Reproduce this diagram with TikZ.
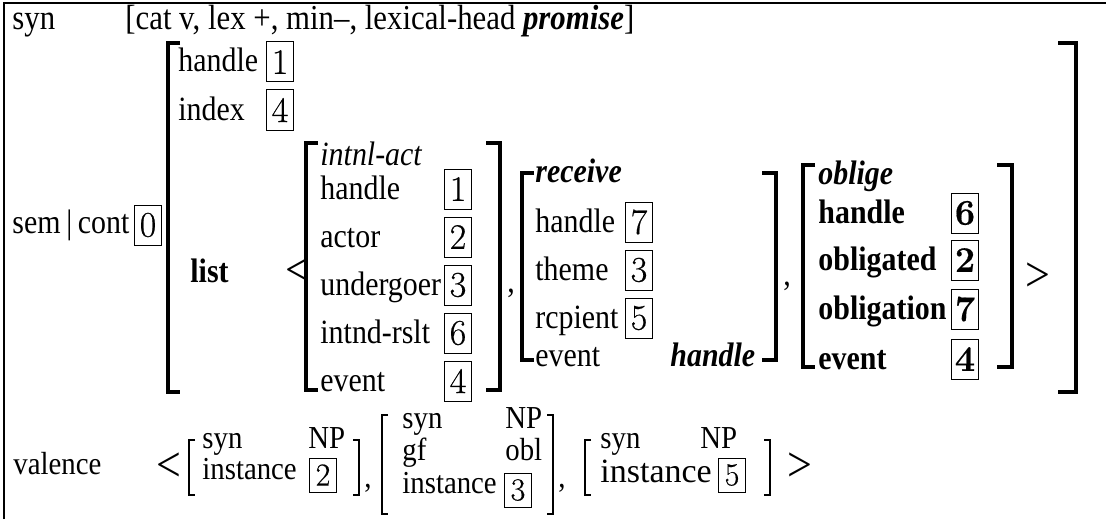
\documentclass[tikz,border=0pt]{standalone}
\usepackage{fontspec}
\setmainfont{Liberation Serif}[FakeStretch=0.88]
\newfontfamily\valfont{Liberation Serif}[FakeStretch=0.9]
\newfontfamily\widefont{Liberation Serif}
\newfontfamily\tagfont{Latin Modern Roman}[FakeBold=0.5]
\usepackage{tikz}

\tikzset{
  lab/.style={anchor=base west, inner sep=0pt, font=\fontsize{17}{19}\selectfont},
  vlab/.style={anchor=base west, inner sep=0pt, font=\valfont\fontsize{16}{18}\selectfont},
  tag/.style={draw, line width=0.5pt, inner sep=0pt, minimum width=13.5pt, minimum height=20pt, font=\tagfont\fontsize{18}{20}\selectfont},
  vtag/.style={tag, minimum height=17pt, font=\tagfont\fontsize{16}{18}\selectfont},
  brk/.style={line width=2pt},
  ibrk/.style={line width=1.6pt},
  vbrk/.style={line width=0.6pt},
  angl/.style={inner sep=0pt, font=\fontsize{25}{25}\selectfont}
}

\begin{document}
\begin{tikzpicture}[x=0.5pt,y=-0.5pt]
\useasboundingbox (0,0) rectangle (1106,519);

\draw [line width=1pt] (4,519) -- (4,3) -- (1106,3);

\node (syn) at (12,30) [lab, font=\fontsize{17.5}{19}\selectfont]{syn};
\node (synval) at (125,30) [lab, font=\fontsize{17.5}{19}\selectfont]{[cat v, lex +, min--, lexical-head \textbf{\textit{promise}}]};

\node (sem) at (12,233) [lab]{sem\,|\,cont};
\node (t0) at (148,225) [tag]{0};

% main matrix
\draw [brk] (180,43) -- (168,43) -- (168,392) -- (180,392);
\draw [brk] (1058,43) -- (1076,43) -- (1076,392) -- (1058,392);

\node (mhandle) at (178,72) [lab]{handle};
\node (t1) at (280,62) [tag]{1};
\node (mindex) at (178,120) [lab]{index};
\node (t4) at (280,110) [tag]{4};
\node (list) at (190,282) [lab]{\textbf{list}};
\node (lt) at (298,272) [angl]{<};

% intnl-act
\draw [ibrk] (318,143) -- (306,143) -- (306,390) -- (318,390);
\draw [ibrk] (486,143) -- (500,143) -- (500,390) -- (486,390);
\node (ia) at (320,165) [lab]{\textit{intnl-act}};
\node (iahandle) at (320,199) [lab]{handle};
\node (iat1) at (458,189) [tag]{1};
\node (iaactor) at (320,247) [lab]{actor};
\node (iat2) at (458,237) [tag]{2};
\node (iaund) at (320,295) [lab]{undergoer};
\node (iat3) at (458,285) [tag]{3};
\node (iarslt) at (320,343) [lab]{intnd-rslt};
\node (iat6) at (458,333) [tag]{6};
\node (iaevent) at (320,391) [lab]{event};
\node (iat4) at (458,381) [tag]{4};
\node (c1) at (507,292) [lab]{,};

% receive
\draw [ibrk] (534,173) -- (522,173) -- (522,360) -- (534,360);
\draw [ibrk] (762,173) -- (776,173) -- (776,360) -- (762,360);
\node (rc) at (535,182) [lab]{\textbf{\textit{receive}}};
\node (rchandle) at (535,232) [lab]{handle};
\node (rct7) at (639,222) [tag]{7};
\node (rctheme) at (535,280) [lab]{theme};
\node (rct3) at (639,270) [tag]{3};
\node (rcrcp) at (535,328) [lab]{rcpient};
\node (rct5) at (639,318) [tag]{5};
\node (rcevent) at (535,366) [lab]{event};
\node (rcval) at (670,366) [lab]{\textbf{\textit{handle}}};
\node (c2) at (783,285) [lab]{,};

% oblige
\draw [ibrk] (815,165) -- (803,165) -- (803,367) -- (815,367);
\draw [ibrk] (997,165) -- (1012,165) -- (1012,367) -- (997,367);
\node (ob) at (818,184) [lab]{\textbf{\textit{oblige}}};
\node (obhandle) at (818,223) [lab]{\textbf{handle}};
\node (obt6) at (965,213) [tag]{\bfseries 6};
\node (obgated) at (818,270) [lab]{\textbf{obligated}};
\node (obt2) at (965,260) [tag]{\bfseries 2};
\node (obgation) at (818,319) [lab]{\textbf{obligation}};
\node (obt7) at (965,309) [tag]{\bfseries 7};
\node (obevent) at (818,369) [lab]{\textbf{event}};
\node (obt4) at (965,359) [tag]{\bfseries 4};
\node (gt) at (1038,277) [angl]{>};

% valence
\node (val) at (13,474) [vlab]{valence};
\node (vlt) at (169,467) [angl]{<};

\draw [vbrk] (195,440) -- (189,440) -- (189,495) -- (195,495);
\draw [vbrk] (353,440) -- (359,440) -- (359,495) -- (353,495);
\node (v1syn) at (202,448) [vlab]{syn};
\node (v1np) at (308,448) [vlab]{NP};
\node (v1inst) at (202,479) [vlab]{instance};
\node (v1t2) at (323,475) [vtag]{2};
\node (c3) at (364,487) [vlab]{,};

\draw [vbrk] (388,415) -- (382,415) -- (382,514) -- (388,514);
\draw [vbrk] (547,415) -- (553,415) -- (553,514) -- (547,514);
\node (v2syn) at (402,428) [vlab]{syn};
\node (v2np) at (505,428) [vlab]{NP};
\node (v2gf) at (402,460) [vlab]{gf};
\node (v2obl) at (505,460) [vlab]{obl};
\node (v2inst) at (402,493) [vlab]{instance};
\node (v2t3) at (518,490) [vtag]{3};
\node (c4) at (558,487) [vlab]{,};

\draw [vbrk] (591,440) -- (585,440) -- (585,495) -- (591,495);
\draw [vbrk] (764,440) -- (770,440) -- (770,495) -- (764,495);
\node (v3syn) at (600,448) [vlab]{syn};
\node (v3np) at (700,448) [vlab]{NP};
\node (v3inst) at (600,482) [lab]{\widefont instance};
\node (v3t5) at (732,475) [vtag]{5};
\node (vgt) at (800,467) [angl]{>};

\end{tikzpicture}
\end{document}
